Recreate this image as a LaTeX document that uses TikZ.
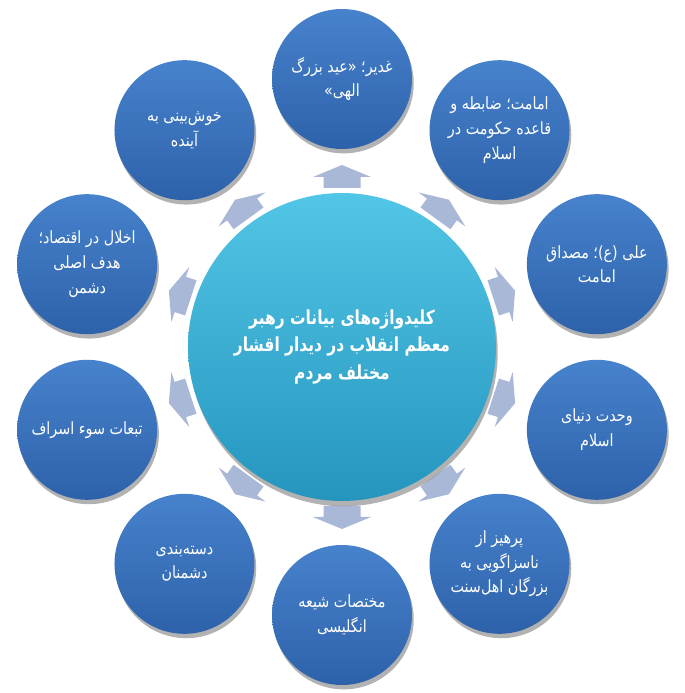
\documentclass[tikz,border=0pt]{standalone}
\usepackage{fontspec}
\newfontfamily\arabicfont[Script=Arabic, FakeStretch=0.85]{DejaVu Sans}
\newfontfamily\arabichub[Script=Arabic, FakeStretch=0.8]{DejaVu Sans Bold}
\TeXXeTstate=1
\usetikzlibrary{shadows}
\definecolor{topictop}{HTML}{4782CC}
\definecolor{topicbot}{HTML}{2D62AA}
\definecolor{hubtop}{HTML}{52C6E6}
\definecolor{hubbot}{HTML}{2595BE}
\definecolor{arrowfill}{HTML}{AAB8D8}
\newcommand{\fa}[1]{\beginR #1\endR}
\tikzset{
	topic/.style={circle, minimum size=2.8cm, inner sep=0pt, align=center, text=white,
		font=\arabicfont\fontsize{9.6}{14}\selectfont, top color=topictop, bottom color=topicbot,
		drop shadow={shadow xshift=1pt, shadow yshift=-2.5pt, opacity=.3, fill=black}},
	hub/.style={circle, minimum size=6.16cm, inner sep=0pt, align=center, text=white,
		font=\arabichub\fontsize{11}{15.5}\selectfont, top color=hubtop, bottom color=hubbot,
		drop shadow={shadow xshift=1pt, shadow yshift=-3pt, opacity=.3, fill=black}},
}
\begin{document}
\begin{tikzpicture}[x=0.02cm, y=0.02cm]
	\useasboundingbox [fill=white] (0,0) rectangle (685,693);
	\begin{scope}[shift={(342,346)}]
		\foreach \a in {90, 54, 18, -18, -54, -90, -126, -162, 162, 126} {
			\fill [arrowfill, rotate=\a] (159,-18.5) -- (170,-18.5) -- (170,-29) -- (182,0) -- (170,29) -- (170,18.5) -- (159,18.5) -- cycle;
		}
		\node [hub] (hub) at (0,0) {\fa{کلیدواژه‌های بیانات رهبر}\\\fa{معظم انقلاب در دیدار اقشار}\\\fa{مختلف مردم}};
		\node [topic] (ghadir) at (90:268) {\fa{غدیر؛ «عید بزرگ}\\\fa{الهی»}};
		\node [topic] (imamat) at (54:268) {\fa{امامت؛ ضابطه و}\\\fa{قاعده حکومت در}\\\fa{اسلام}};
		\node [topic] (ali) at (18:268) {\fa{علی (ع)؛ مصداق}\\\fa{امامت}};
		\node [topic] (vahdat) at (-18:268) {\fa{وحدت دنیای}\\\fa{اسلام}};
		\node [topic] (parhiz) at (-54:268) {\fa{پرهیز از}\\\fa{ناسزاگویی به}\\\fa{بزرگان اهل‌سنت}};
		\node [topic] (shie) at (-90:268) {\fa{مختصات شیعه}\\\fa{انگلیسی}};
		\node [topic] (doshman) at (-126:268) {\fa{دسته‌بندی}\\\fa{دشمنان}};
		\node [topic] (esraf) at (-162:268) {\fa{تبعات سوء اسراف}};
		\node [topic] (eqtesad) at (162:268) {\fa{اخلال در اقتصاد؛}\\\fa{هدف اصلی}\\\fa{دشمن}};
		\node [topic] (ayande) at (126:268) {\fa{خوش‌بینی به}\\\fa{آینده}};
	\end{scope}
\end{tikzpicture}
\end{document}
